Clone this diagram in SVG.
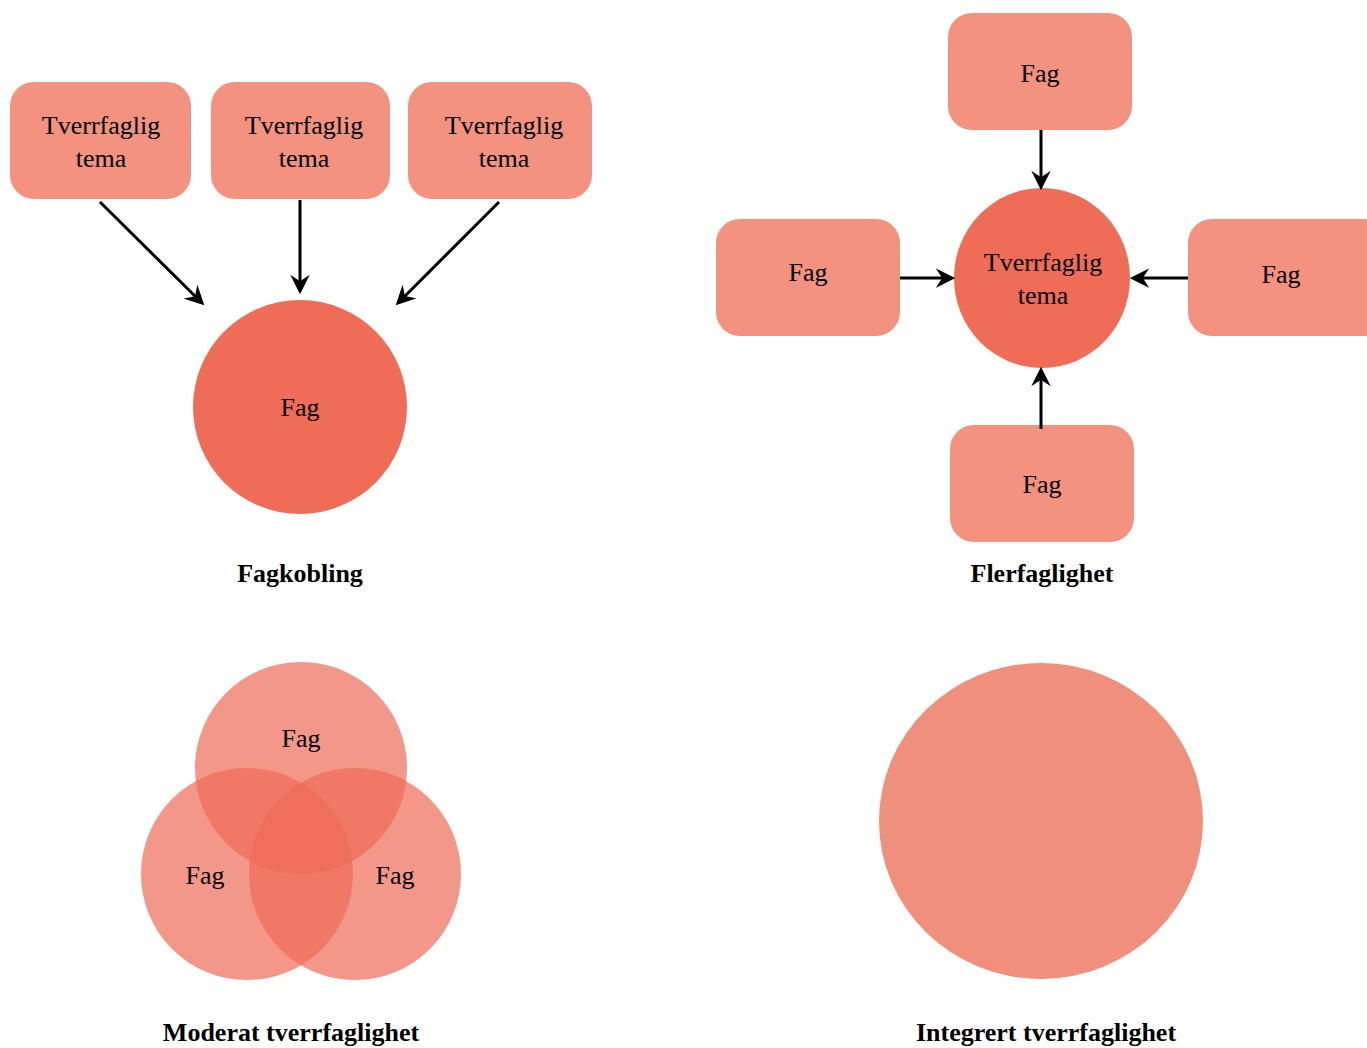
<svg xmlns="http://www.w3.org/2000/svg" width="1367" height="1048" viewBox="0 0 1367 1048">
<style>
.box{fill:#F3927F}
.hub{fill:#EF6C57}
.venn{fill:#EE6B56;fill-opacity:0.7}
.t{font-family:"Liberation Serif",serif;font-size:26px;fill:#000;text-anchor:middle}
.b{font-family:"Liberation Serif",serif;font-size:26px;font-weight:bold;fill:#000;text-anchor:middle}
.c{stroke:#000;stroke-width:3;fill:none;marker-end:url(#ah)}
</style>
<defs>
<marker id="ah" viewBox="0 0 12 12" refX="10" refY="6" markerWidth="6.5" markerHeight="6.5" orient="auto" markerUnits="strokeWidth">
<path d="M0,0 L12,6 L0,12 L4,6 z" fill="#000"/>
</marker>
</defs>
<rect width="1367" height="1048" fill="#fff"/>

<g id="fagkobling">
<g id="tt1"><rect class="box" x="10" y="82" width="181" height="117" rx="24"/><text class="t" x="101" y="134">Tverrfaglig</text><text class="t" x="101" y="167">tema</text></g>
<g id="tt2"><rect class="box" x="211" y="82" width="179" height="117" rx="24"/><text class="t" x="304" y="134">Tverrfaglig</text><text class="t" x="304" y="167">tema</text></g>
<g id="tt3"><rect class="box" x="408" y="82" width="184" height="117" rx="24"/><text class="t" x="504" y="134">Tverrfaglig</text><text class="t" x="504" y="167">tema</text></g>
<g id="fag1"><circle class="hub" cx="300" cy="407" r="107"/><text class="t" x="300" y="416">Fag</text></g>
<text id="lbl1" class="b" x="300" y="582">Fagkobling</text>
</g>

<g id="flerfaglighet">
<g id="ff-top"><rect class="box" x="948" y="13" width="184" height="117" rx="24"/><text class="t" x="1040" y="82">Fag</text></g>
<g id="ff-left"><rect class="box" x="716" y="219" width="184" height="117" rx="24"/><text class="t" x="808" y="281">Fag</text></g>
<g id="ff-right"><rect class="box" x="1188" y="219" width="200" height="117" rx="24"/><text class="t" x="1281" y="283">Fag</text></g>
<g id="ff-bottom"><rect class="box" x="950" y="425" width="184" height="117" rx="24"/><text class="t" x="1042" y="493">Fag</text></g>
<g id="ff-hub"><ellipse class="hub" cx="1042" cy="278" rx="88" ry="90"/><text class="t" x="1043" y="271">Tverrfaglig</text><text class="t" x="1043" y="304">tema</text></g>
<text id="lbl2" class="b" x="1042" y="582">Flerfaglighet</text>
</g>

<g id="connectors">
<line class="c" x1="100" y1="202" x2="202" y2="303"/>
<line class="c" x1="300" y1="200" x2="300" y2="291"/>
<line class="c" x1="499" y1="202" x2="398" y2="303"/>
<line class="c" x1="1041" y1="130" x2="1041" y2="187"/>
<line class="c" x1="900" y1="278" x2="952" y2="278"/>
<line class="c" x1="1188" y1="278" x2="1133" y2="278"/>
<line class="c" x1="1041" y1="429" x2="1041" y2="370"/>
</g>

<g id="moderat">
<circle id="v1" class="venn" cx="301" cy="768" r="106"/>
<circle id="v2" class="venn" cx="247" cy="874" r="106"/>
<circle id="v3" class="venn" cx="355" cy="874" r="106"/>
<text class="t" x="301" y="747">Fag</text>
<text class="t" x="205" y="884">Fag</text>
<text class="t" x="395" y="884">Fag</text>
<text id="lbl3" class="b" x="291" y="1041">Moderat tverrfaglighet</text>
</g>

<g id="integrert">
<ellipse id="big" cx="1041" cy="821" rx="162" ry="158" fill="#F18F7D"/>
<text id="lbl4" class="b" x="1046" y="1041">Integrert tverrfaglighet</text>
</g>
</svg>
